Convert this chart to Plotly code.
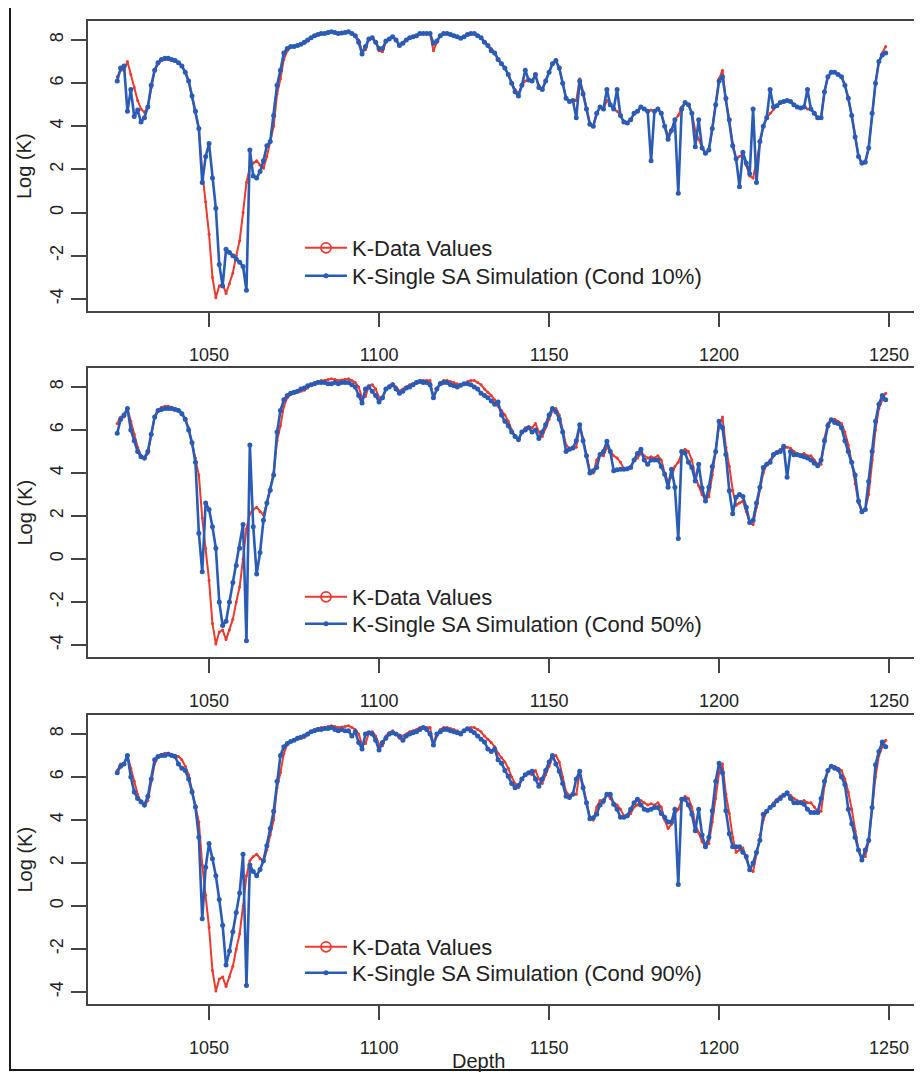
import plotly.graph_objects as go

# Depth sampling (one reading per metre of depth)
DEPTH = list(range(1023, 1250))

# K-Data Values (same measured data in all three panels)
K_DATA = [
    6.3, 6.6, 6.6, 7.0, 6.4, 5.8, 5.2, 4.8, 4.65, 4.9,
    5.8, 6.6, 6.9, 7.05, 7.1, 7.1, 7.05, 7.0, 6.95, 6.8,
    6.5, 6.1, 5.4, 4.7, 3.9, 1.9, 0.5, -1.0, -3.0, -3.95,
    -3.4, -3.3, -3.75, -3.3, -2.8, -2.0, -1.3, 0.0, 1.4, 2.1,
    2.3, 2.4, 2.2, 2.05, 2.6, 3.3, 4.0, 5.5, 6.2, 7.1,
    7.5, 7.65, 7.7, 7.75, 7.8, 7.85, 7.95, 8.1, 8.2, 8.25,
    8.3, 8.3, 8.35, 8.38, 8.35, 8.3, 8.32, 8.35, 8.38, 8.3,
    8.2, 8.0, 7.5, 7.55, 8.05, 8.1, 7.9, 7.5, 7.45, 7.9,
    8.05, 8.15, 8.0, 7.8, 7.9, 8.0, 8.1, 8.15, 8.2, 8.3,
    8.3, 8.3, 8.3, 7.5, 7.9, 8.2, 8.3, 8.3, 8.25, 8.2,
    8.15, 8.08, 8.15, 8.25, 8.3, 8.3, 8.2, 8.1, 7.9, 7.75,
    7.6, 7.4, 7.1, 6.9, 6.7, 6.4, 6.0, 5.7, 5.5, 5.9,
    6.1, 6.15, 6.1, 6.3, 5.9, 5.7, 6.1, 6.5, 6.9, 7.0,
    6.7, 6.0, 5.3, 5.15, 5.2, 5.2, 6.2, 5.6, 4.8, 4.1,
    4.0, 4.6, 4.9, 4.8, 5.2, 5.0, 4.8, 4.7, 4.5, 4.2,
    4.15, 4.3, 4.6, 4.7, 4.9, 4.8, 4.7, 4.75, 4.7, 4.8,
    4.6, 4.0, 3.6, 3.8, 4.3, 4.5, 4.9, 5.1, 5.0, 4.6,
    3.8, 3.4, 3.0, 2.75, 2.9, 3.9, 5.0, 6.2, 6.6, 5.2,
    4.3, 3.2, 2.5, 2.6, 2.7, 2.2, 1.7, 1.6, 2.4, 3.3,
    4.0, 4.4, 4.6, 4.8, 4.95, 5.1, 5.15, 5.2, 5.15, 5.0,
    4.9, 4.85, 4.9, 4.8, 4.8, 4.6, 4.4, 4.4, 5.6, 6.3,
    6.5, 6.5, 6.4, 6.3, 5.9, 5.3, 4.5, 3.5, 2.6, 2.25,
    2.3, 3.0, 4.6, 6.0, 7.0, 7.4, 7.7,
]

# K-Single SA Simulation, conditioned on 10% of data
K_SIM_10 = [
    6.1, 6.7, 6.8, 4.7, 5.7, 4.45, 4.75, 4.2, 4.4, 4.9,
    5.9, 6.6, 6.95, 7.1, 7.15, 7.15, 7.1, 7.05, 6.95, 6.8,
    6.5, 6.1, 5.4, 4.7, 3.9, 1.4, 2.6, 3.2, 1.6, 0.2,
    -2.4, -3.4, -1.7, -1.85, -2.0, -2.15, -2.3, -2.5, -3.6, 2.9,
    1.7, 1.6, 1.9, 2.4, 3.1, 3.3, 4.5, 5.9, 6.6, 7.4,
    7.6, 7.7, 7.7, 7.75, 7.8, 7.9, 8.0, 8.1, 8.2, 8.25,
    8.3, 8.3, 8.35, 8.38, 8.35, 8.3, 8.32, 8.35, 8.38, 8.3,
    8.2, 7.9, 7.35, 7.7, 8.05, 8.1, 7.9, 7.6, 7.6, 7.95,
    8.05, 8.15, 8.0, 7.75, 7.85, 8.0, 8.1, 8.15, 8.2, 8.3,
    8.3, 8.3, 8.3, 7.85, 7.95, 8.2, 8.3, 8.3, 8.25, 8.2,
    8.15, 8.08, 8.15, 8.25, 8.3, 8.3, 8.2, 8.1, 7.9, 7.75,
    7.5, 7.4, 7.1, 6.9, 6.7, 6.4, 6.0, 5.6, 5.4, 5.9,
    6.6, 6.15, 6.1, 6.4, 5.8, 5.7, 6.1, 6.5, 6.9, 7.05,
    6.7, 6.0, 5.3, 5.15, 5.2, 4.4, 6.1, 5.5, 4.8, 4.1,
    4.0, 4.6, 4.9, 4.8, 5.7, 5.0, 4.8, 5.7, 4.5, 4.2,
    4.15, 4.3, 4.6, 4.7, 4.9, 4.8, 4.7, 2.4, 4.7, 4.8,
    4.6, 4.0, 3.4, 3.8, 4.3, 0.9, 4.8, 5.1, 5.0, 4.6,
    3.05, 4.3, 3.0, 2.75, 2.9, 3.9, 5.0, 6.1, 6.3, 5.3,
    4.3, 3.1, 2.5, 1.2, 2.8, 2.3, 1.8, 4.8, 1.4, 3.3,
    4.0, 4.4, 5.7, 4.9, 4.95, 5.1, 5.15, 5.2, 5.15, 5.0,
    4.9, 4.85, 4.9, 5.7, 4.8, 4.6, 4.4, 4.4, 5.6, 6.3,
    6.5, 6.5, 6.4, 6.3, 5.9, 5.3, 4.5, 3.5, 2.6, 2.3,
    2.35, 3.0, 4.6, 6.0, 7.0, 7.3, 7.4,
]

# K-Single SA Simulation, conditioned on 50% of data
K_SIM_50 = [
    5.85, 6.5, 6.7, 7.0, 6.0, 5.5, 5.0, 4.75, 4.7, 5.0,
    5.8, 6.6, 6.9, 6.95, 7.0, 7.0, 7.0, 6.95, 6.9, 6.75,
    6.5, 6.0, 5.4, 4.5, 1.2, -0.6, 2.6, 2.3, 1.5, 0.5,
    -2.0, -3.1, -2.9, -2.0, -1.1, -0.3, 0.5, 1.6, -3.8, 5.3,
    1.5, -0.7, 0.3, 1.8, 2.6, 3.2, 3.9, 5.9, 6.9, 7.4,
    7.6, 7.7, 7.75, 7.8, 7.9, 7.95, 8.05, 8.1, 8.15, 8.2,
    8.2, 8.2, 8.15, 8.15, 8.2, 8.15, 8.2, 8.2, 8.2, 8.1,
    8.0, 7.6, 7.25, 7.9, 8.0, 7.8, 7.6, 7.3, 7.5, 7.9,
    8.0, 8.1, 7.9, 7.7, 7.8, 7.95, 8.0, 8.1, 8.2, 8.25,
    8.2, 8.2, 8.1, 7.5, 7.9, 8.15, 8.2, 8.2, 8.1, 8.05,
    8.0, 8.08, 8.15, 8.15, 8.1, 8.0, 7.9, 7.7, 7.6, 7.5,
    7.35, 7.2, 7.3, 6.7, 6.4, 6.2, 5.9, 5.7, 5.55, 5.9,
    6.0, 6.1, 5.9, 6.0, 5.6, 5.9, 6.24, 6.7, 7.0, 6.85,
    6.5, 5.9, 5.0, 5.1, 5.16, 5.5, 6.24, 5.5, 4.8, 4.0,
    4.1, 4.25, 4.86, 5.0, 5.47, 5.0, 4.1, 4.15, 4.17, 4.17,
    4.2, 4.25, 4.6, 4.9, 5.1, 4.6, 4.4, 4.6, 4.6, 4.6,
    4.3, 3.94, 3.33, 4.17, 3.33, 0.95, 5.0, 4.93, 4.5, 4.25,
    3.63, 4.4, 3.3, 2.7, 3.33, 4.3, 5.0, 6.4, 6.1, 4.86,
    3.17, 2.1, 2.87, 3.0, 2.9, 2.4, 1.7, 1.8, 2.6, 3.33,
    4.25, 4.4, 4.5, 4.86, 4.95, 5.0, 5.24, 3.8, 5.0, 4.85,
    4.85, 4.8, 4.75, 4.7, 4.6, 4.45, 4.33, 4.6, 5.5, 6.2,
    6.47, 6.35, 6.3, 6.1, 5.5, 5.0, 4.5, 3.9, 2.7, 2.2,
    2.3, 3.6, 5.0, 6.4, 7.2, 7.6, 7.4,
]

# K-Single SA Simulation, conditioned on 90% of data
K_SIM_90 = [
    6.2, 6.5, 6.6, 7.0, 6.0, 5.3, 5.0, 4.85, 4.7, 5.1,
    5.9, 6.8, 6.95, 7.0, 7.0, 7.05, 7.0, 6.95, 6.6, 6.4,
    6.3, 5.9, 5.3, 4.6, 3.2, -0.6, 1.8, 2.9, 2.2, 1.4,
    0.3, -0.9, -2.75, -2.1, -1.2, -0.3, 0.6, 2.4, -3.7, 1.9,
    1.6, 1.4, 1.7, 2.1, 2.8, 3.6, 4.4, 5.8, 7.0, 7.4,
    7.55, 7.65, 7.7, 7.8, 7.85, 7.9, 8.0, 8.1, 8.15, 8.2,
    8.2, 8.25, 8.25, 8.3, 8.2, 8.15, 8.2, 8.15, 8.15, 7.9,
    8.1, 7.6, 7.3, 8.0, 8.05, 8.0, 7.7, 7.25, 7.6, 7.8,
    8.0, 8.05, 8.0, 7.9, 7.7, 7.9, 8.0, 8.05, 8.1, 8.2,
    8.3, 8.2, 8.0, 7.48, 8.0, 8.1, 8.2, 8.2, 8.15, 8.1,
    8.05, 8.0, 8.15, 8.24, 8.15, 8.05, 7.9, 7.75, 7.63, 7.3,
    7.18, 7.3, 6.8, 6.64, 6.3, 6.03, 5.7, 5.5, 5.6, 5.9,
    6.1, 6.2, 6.26, 5.9, 5.57, 5.9, 6.3, 6.7, 7.0, 6.6,
    6.26, 5.7, 5.1, 5.04, 5.2, 5.9, 6.26, 5.5, 4.8, 4.05,
    4.1, 4.27, 4.7, 4.89, 5.19, 5.19, 4.73, 4.5, 4.12, 4.12,
    4.2, 4.5, 4.8, 4.96, 4.7, 4.5, 4.45, 4.5, 4.58, 4.58,
    4.3, 4.12, 3.9, 3.9, 4.5, 1.0, 4.96, 4.96, 4.7, 4.27,
    3.5, 4.5, 3.3, 2.75, 3.2, 4.43, 5.8, 6.64, 6.2, 4.43,
    3.36, 2.75, 2.75, 2.75, 2.5, 2.3, 1.68, 2.0, 2.5, 3.05,
    4.27, 4.4, 4.58, 4.7, 4.89, 5.0, 5.15, 5.27, 5.0, 4.8,
    4.8, 4.8, 4.73, 4.5, 4.35, 4.35, 4.35, 5.0, 5.8, 6.3,
    6.5, 6.4, 6.34, 6.0, 5.65, 4.5, 3.82, 3.2, 2.6, 2.14,
    2.6, 3.05, 4.58, 6.57, 7.18, 7.63, 7.4,
]

SIM_SERIES = [K_SIM_10, K_SIM_50, K_SIM_90]
SIM_NAMES = [
    "K-Single SA Simulation (Cond 10%)",
    "K-Single SA Simulation (Cond 50%)",
    "K-Single SA Simulation (Cond 90%)",
]
DATA_NAME = "K-Data Values"

X_TICKS = [1050, 1100, 1150, 1200, 1250]
X_TICKTEXT = ["1050", "1100", "1150", "1200", "1250"]
Y_TICKS = [-4, -2, 0, 2, 4, 6, 8]
Y_TICKTEXT = ["-4", "-2", "0", "2", "4", "6", "8"]
X_TITLE = "Depth"
Y_TITLE = "Log (K)"

RED = "#ec3a2e"
BLUE = "#2a5bb5"
AX = "#444444"
TXT = "#222222"
FONT = "Liberation Sans, Arial, sans-serif"

# The page puts the figure 8 px in from the top-left corner of the window,
# so the figure is made 8 px smaller and every window position is shifted.
OFF = 8
W, H = 922 - OFF, 1072 - OFF
# plot area in window pixels
PLOT_LEFT, PLOT_RIGHT = 88, 918
PANELS_PX = [(21, 311), (368, 657), (715, 1004)]
ML = PLOT_LEFT - OFF
MR = 922 - PLOT_RIGHT
MT = PANELS_PX[0][0] - OFF
MB = 1072 - PANELS_PX[-1][1]
PW = W - ML - MR
PH = H - MT - MB
# legend row centres (red row, blue row) per panel, window pixels
LEGEND_ROWS = [(248, 276), (597, 624), (947, 973)]
LEGEND_LEFT = 300


def py2paper(py):
    return (1072 - MB - py) / PH


def px2paper(px):
    return (px - PLOT_LEFT) / PW


fig = go.Figure()

for i, sim in enumerate(SIM_SERIES):
    sfx = "" if i == 0 else str(i + 1)
    xa, ya = "x" + sfx, "y" + sfx
    lg_red = "legend" if i == 0 else "legend" + str(2 * i + 1)
    lg_blue = "legend" + str(2 * i + 2)
    fig.add_trace(go.Scatter(
        x=DEPTH, y=K_DATA, mode="lines+markers", xaxis=xa, yaxis=ya,
        line=dict(color=RED, width=2), marker=dict(color=RED, size=3),
        showlegend=False, name=DATA_NAME))
    fig.add_trace(go.Scatter(
        x=DEPTH, y=sim, mode="lines+markers", xaxis=xa, yaxis=ya,
        line=dict(color=BLUE, width=2.6), marker=dict(color=BLUE, size=5),
        showlegend=False, name=SIM_NAMES[i]))
    # legend entries
    fig.add_trace(go.Scatter(
        x=[None], y=[None], mode="lines+markers", xaxis=xa, yaxis=ya,
        line=dict(color=RED, width=2),
        marker=dict(symbol="circle-open", color=RED, size=10, line=dict(width=1.8)),
        name=DATA_NAME, legend=lg_red, showlegend=True))
    fig.add_trace(go.Scatter(
        x=[None], y=[None], mode="lines+markers", xaxis=xa, yaxis=ya,
        line=dict(color=BLUE, width=2.4),
        marker=dict(symbol="circle", color=BLUE, size=5),
        name=SIM_NAMES[i], legend=lg_blue, showlegend=True))

layout = dict(
    width=W, height=H,
    margin=dict(l=ML, r=MR, t=MT, b=MB, autoexpand=False),
    paper_bgcolor="white", plot_bgcolor="white",
    font=dict(family=FONT, color=TXT),
    annotations=[], shapes=[],
)

for i, (top, bot) in enumerate(PANELS_PX):
    sfx = "" if i == 0 else str(i + 1)
    layout["xaxis" + sfx] = dict(
        domain=[0, 1], anchor="y" + sfx, range=[1014.4, 1258.5],
        tickmode="array", tickvals=X_TICKS, ticktext=X_TICKTEXT,
        ticks="outside", ticklen=14, tickwidth=1.6, tickcolor=AX,
        showline=True, mirror=True, linecolor=AX, linewidth=1.6,
        showgrid=False, zeroline=False, ticklabelstandoff=13,
        automargin=False,
        tickfont=dict(size=18, family=FONT, color=TXT),
    )
    layout["yaxis" + sfx] = dict(
        domain=[py2paper(bot), py2paper(top)], anchor="x" + sfx,
        range=[-4.56, 8.88],
        tickmode="array", tickvals=Y_TICKS, ticktext=Y_TICKTEXT,
        tickangle=-90,
        ticks="outside", ticklen=15, tickwidth=1.6, tickcolor=AX,
        showline=True, mirror=True, linecolor=AX, linewidth=1.6,
        showgrid=False, zeroline=False, ticklabelstandoff=1,
        automargin=False,
        tickfont=dict(size=18, family=FONT, color=TXT),
    )
    layout["annotations"].append(dict(
        text=Y_TITLE, textangle=-90, xref="paper", yref="paper",
        x=px2paper(24), y=py2paper((top + bot) / 2),
        xanchor="center", yanchor="middle", showarrow=False,
        font=dict(size=20, family=FONT, color=TXT)))

for i, (r_red, r_blue) in enumerate(LEGEND_ROWS):
    for j, row in enumerate((r_red, r_blue)):
        n = 2 * i + j + 1
        key = "legend" if n == 1 else "legend" + str(n)
        layout[key] = dict(
            x=px2paper(LEGEND_LEFT), y=py2paper(row),
            xanchor="left", yanchor="middle",
            bgcolor="rgba(0,0,0,0)", borderwidth=0, itemwidth=42,
            font=dict(size=22, family=FONT, color=TXT),
        )

layout["annotations"].append(dict(
    text=X_TITLE, xref="paper", yref="paper",
    x=px2paper(478), y=py2paper(1048), xanchor="center", yanchor="top",
    showarrow=False, font=dict(size=20, family=FONT, color=TXT)))

# outer frame of the figure
layout["shapes"].append(dict(
    type="rect", xref="paper", yref="paper",
    x0=px2paper(10), x1=px2paper(940), y0=py2paper(1070), y1=py2paper(6),
    line=dict(color="#1a1a1a", width=2), fillcolor="rgba(0,0,0,0)"))

fig.update_layout(**layout)
fig.write_html("out.html")
